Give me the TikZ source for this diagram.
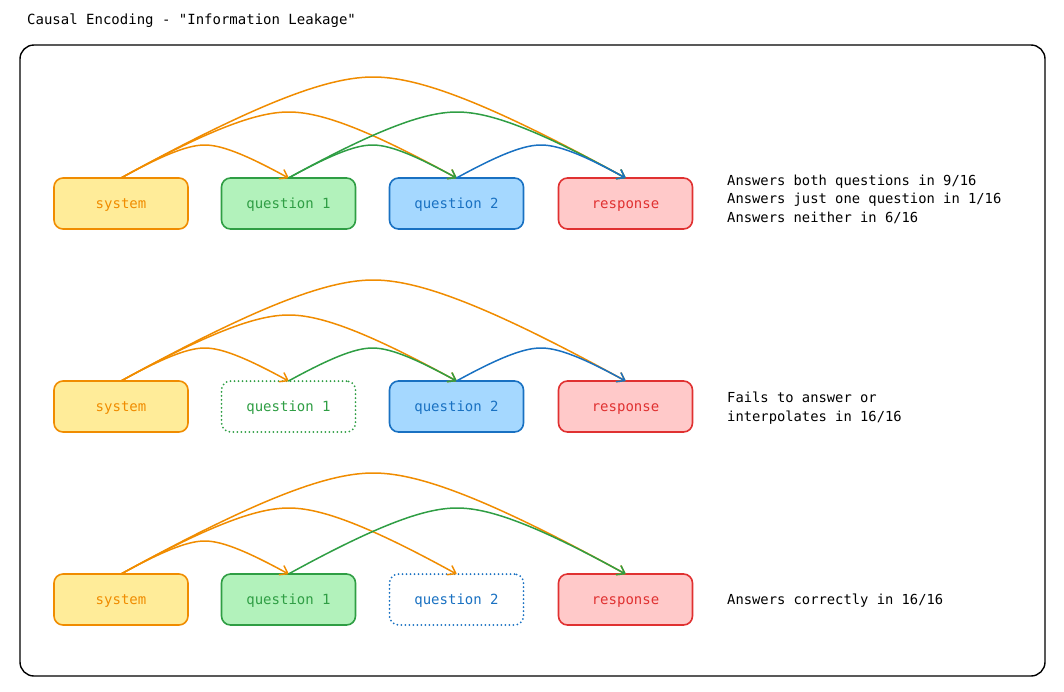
\documentclass[tikz,border=0pt]{standalone}
\usepackage{fontspec}
\setmonofont{DejaVu Sans Mono}
\usetikzlibrary{arrows.meta,calc}
\definecolor{cor}{HTML}{F08C00}
\definecolor{cgr}{HTML}{2F9E44}
\definecolor{cbl}{HTML}{1971C2}
\definecolor{crd}{HTML}{E03131}
\definecolor{fyel}{HTML}{FFEC99}
\definecolor{fgr}{HTML}{B2F2BB}
\definecolor{fbl}{HTML}{A5D8FF}
\definecolor{frd}{HTML}{FFC9C9}
\newcommand\carc[5]{\draw[arr,#1] (#2) .. controls +({0.8*#4/0.55},{-0.8*#4}) and +({-0.6*(#5-#4/0.55)},0) .. ($(#2)!0.5!(#3)+(0,-#4)$) .. controls +({0.6*(#5-#4/0.55)},0) and +({-0.8*#4/0.55},{-0.8*#4}) .. (#3);}
\begin{document}
\begin{tikzpicture}[x=1pt,y=-1pt,
  box/.style={rounded corners=9pt, minimum width=134pt, minimum height=51pt, line width=1.6pt,
    font=\ttfamily\fontsize{14}{16}\selectfont, inner sep=0pt, outer sep=0pt, text height=10.5pt, text depth=1.5pt},
  sysbox/.style={box, draw=cor, fill=fyel, text=cor},
  qabox/.style={box, draw=cgr, fill=fgr, text=cgr},
  qbbox/.style={box, draw=cbl, fill=fbl, text=cbl},
  rbox/.style={box, draw=crd, fill=frd, text=crd},
  dotbox/.style={box, fill=white, dash pattern=on 0pt off 4pt, line cap=round, line width=2pt},
  qadot/.style={dotbox, draw=cgr, text=cgr},
  qbdot/.style={dotbox, draw=cbl, text=cbl},
  arr/.style={line width=1.5pt, line cap=round, -{Straight Barb[length=7pt,width=10pt,round]}},
  note/.style={anchor=west, align=left, inner sep=0pt, font=\ttfamily\fontsize{13.8}{18.6}\selectfont}
]
\useasboundingbox (0,0) rectangle (1064,691);
\node[anchor=west, inner sep=0pt, font=\ttfamily\fontsize{14}{16}\selectfont] (title) at (27,20.5) {Causal Encoding - "Information Leakage"};
\draw[line width=1.4pt, rounded corners=14pt] (20,45) rectangle (1045,676);

% row 1
\node[sysbox] (s1) at (121,203.5) {system};
\node[qabox] (a1) at (288.5,203.5) {question 1};
\node[qbbox] (b1) at (456.5,203.5) {question 2};
\node[rbox] (r1) at (625.5,203.5) {response};
\carc{cor}{s1.north}{a1.north}{33}{83.75}
\carc{cor}{s1.north}{b1.north}{66}{167.75}
\carc{cor}{s1.north}{r1.north}{101}{252.25}
\carc{cgr}{a1.north}{b1.north}{33}{84}
\carc{cgr}{a1.north}{r1.north}{66}{168.5}
\carc{cbl}{b1.north}{r1.north}{33}{84.5}
\node[note] (n1) at (727,199) {Answers both questions in 9/16\\Answers just one question in 1/16\\Answers neither in 6/16};

% row 2
\node[sysbox] (s2) at (121,406.5) {system};
\node[qadot] (a2) at (288.5,406.5) {question 1};
\node[qbbox] (b2) at (456.5,406.5) {question 2};
\node[rbox] (r2) at (625.5,406.5) {response};
\carc{cor}{s2.north}{a2.north}{33}{83.75}
\carc{cor}{s2.north}{b2.north}{66}{167.75}
\carc{cor}{s2.north}{r2.north}{101}{252.25}
\carc{cgr}{a2.north}{b2.north}{33}{84}
\carc{cbl}{b2.north}{r2.north}{33}{84.5}
\node[note] (n2) at (727,408) {Fails to answer or\\interpolates in 16/16};

% row 3
\node[sysbox] (s3) at (121,599.5) {system};
\node[qabox] (a3) at (288.5,599.5) {question 1};
\node[qbdot] (b3) at (456.5,599.5) {question 2};
\node[rbox] (r3) at (625.5,599.5) {response};
\carc{cor}{s3.north}{a3.north}{33}{83.75}
\carc{cor}{s3.north}{b3.north}{66}{167.75}
\carc{cor}{s3.north}{r3.north}{101}{252.25}
\carc{cgr}{a3.north}{r3.north}{66}{168.5}
\node[note] (n3) at (727,600.5) {Answers correctly in 16/16};
\end{tikzpicture}
\end{document}
